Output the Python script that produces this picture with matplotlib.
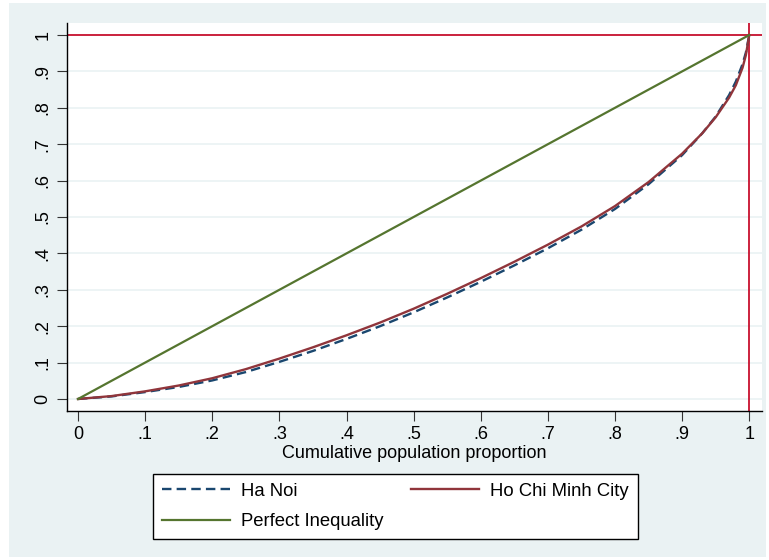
import numpy as np
import matplotlib.pyplot as plt
from matplotlib.patches import Rectangle

plt.rcParams['font.family'] = ['Liberation Sans', 'DejaVu Sans']

# cumulative population proportion
pop_share = [0, .05, .1, .15, .2, .25, .3, .35, .4, .45, .5, .55, .6, .65,
             .7, .75, .8, .85, .9, .93, .95, .97, .98, .99, .995, 1]
# cumulative income share
ha_noi = [0, .007, .019, .033, .051, .074, .102, .132, .165, .200, .238, .279,
          .322, .367, .414, .465, .522, .590, .670, .730, .776, .835, .872,
          .920, .952, 1]
hcmc = [0, .008, .021, .037, .057, .082, .111, .142, .175, .210, .248, .289,
        .332, .377, .424, .474, .530, .596, .674, .730, .774, .828, .862,
        .910, .945, 1]
equality = [0, 1]

ticks = np.round(np.arange(0, 1.01, 0.1), 1)
tick_labels = ['0', '.1', '.2', '.3', '.4', '.5', '.6', '.7', '.8', '.9', '1']

navy = '#1A476F'
maroon = '#90353B'
green = '#55752F'
bg = '#EAF2F3'
ref_red = '#C8102E'

fig = plt.figure(figsize=(7.69, 5.6), dpi=100, facecolor='white')
fig.patches.append(Rectangle((9 / 769, 3 / 560), 757 / 769, 554 / 560,
                             transform=fig.transFigure, facecolor=bg,
                             edgecolor='none', zorder=-10))

ax = fig.add_axes([67 / 769, 1 - 411 / 560, 695 / 769, 388 / 560])
ax.set_facecolor('white')

for t in ticks:
    ax.axhline(t, color=bg, lw=1.2, zorder=1)
ax.axhline(1, color=ref_red, lw=1.3, zorder=2)
ax.axvline(1, color=ref_red, lw=1.3, zorder=2)

l1, = ax.plot(pop_share, ha_noi, color=navy, lw=1.7,
              linestyle=(0, (4, 2.2)), zorder=3, label='Ha Noi')
l2, = ax.plot(pop_share, hcmc, color=maroon, lw=1.7, zorder=4,
              label='Ho Chi Minh City')
l3, = ax.plot(equality, equality, color=green, lw=1.6, zorder=5,
              label='Perfect Inequality')

ax.set_xlim(-0.0164, 1.019)
ax.set_ylim(-0.033, 1.033)
ax.set_xticks(ticks)
ax.set_xticklabels(tick_labels)
ax.set_yticks(ticks)
ax.set_yticklabels(tick_labels, rotation=90, va='center')
ax.tick_params(axis='both', length=7, width=0.8, color='#333333',
               labelsize=13, pad=4)
for side in ['top', 'right']:
    ax.spines[side].set_visible(False)
for side in ['left', 'bottom']:
    ax.spines[side].set_linewidth(1.0)
    ax.spines[side].set_color('black')
ax.set_xlabel('Cumulative population proportion', fontsize=13, labelpad=1)

leg = fig.legend([l1, l3, l2], ['Ha Noi', 'Perfect Inequality', 'Ho Chi Minh City'],
                 ncol=2, loc='upper left',
                 bbox_to_anchor=(153 / 769, 1 - 474 / 560),
                 fontsize=13.3, handlelength=3.7, handletextpad=0.6,
                 columnspacing=1.45,
                 fancybox=False, framealpha=1, facecolor='white',
                 edgecolor='black', borderaxespad=0, borderpad=0.48,
                 labelspacing=0.72)
leg.get_frame().set_linewidth(1.0)

fig.savefig('out.png', dpi=100, facecolor=fig.get_facecolor())
